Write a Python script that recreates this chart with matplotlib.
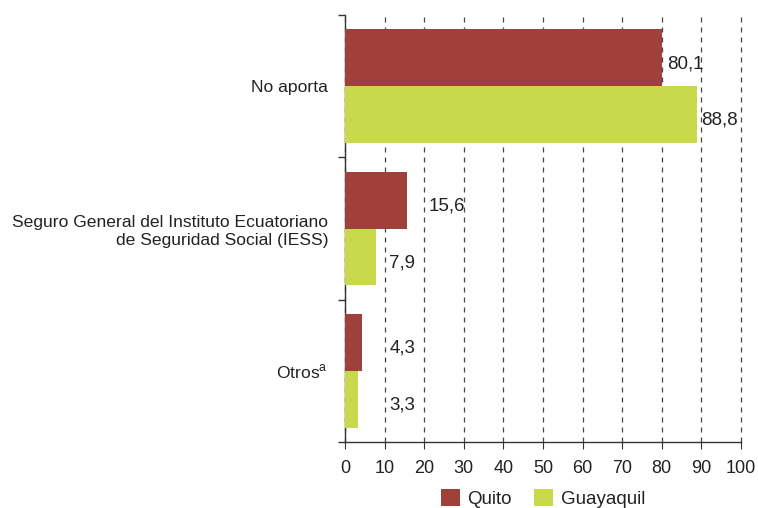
import math
import matplotlib
matplotlib.use("Agg")
import matplotlib.pyplot as plt
import numpy as np

plt.rcParams["font.family"] = ["Liberation Sans", "DejaVu Sans"]
plt.rcParams["mathtext.fontset"] = "custom"
plt.rcParams["mathtext.rm"] = "Liberation Sans"

# data
categories = ["No aporta",
              "Seguro General del Instituto Ecuatoriano\nde Seguridad Social (IESS)",
              r"Otros$^{\mathrm{a}}$"]
quito = [80.1, 15.6, 4.3]
guayaquil = [88.8, 7.9, 3.3]
series_names = ["Quito", "Guayaquil"]
colors = ["#A0403A", "#C8D94B"]

fig = plt.figure(figsize=(7.58, 5.08), dpi=100)
ax = fig.add_axes([0.455, 0.130, 0.5226, 0.840])

y = np.arange(len(categories))
h = 0.4
for vals, off, name, col in zip([quito, guayaquil], [-h / 2, h / 2], series_names, colors):
    ax.barh(y + off, vals, height=h, color=col, label=name, zorder=3)
    for yi, v in zip(y, vals):
        lx = v + 1.2 if v > 20 else math.ceil(v / 10) * 10 + 1.2
        ax.text(lx, yi + off + 0.04, f"{v:.1f}".replace(".", ","), va="center", ha="left",
                fontsize=13.5, color="#222222", zorder=4)

ax.set_xlim(0, 100)
ax.set_ylim(len(categories) - 0.5, -0.5)
ax.set_xticks(np.arange(0, 101, 10))
ax.set_yticks(y)
ax.set_yticklabels(categories, fontsize=12.6, color="#222222", ha="right")
ax.set_yticks(np.arange(-0.5, len(categories)), minor=True)
ax.tick_params(axis="y", which="major", length=0, pad=12)
ax.tick_params(axis="y", which="minor", length=5, color="#333333", width=1)
ax.tick_params(axis="x", length=5, color="#333333", labelsize=13, labelcolor="#222222", pad=8)

ax.grid(axis="x", linestyle=(0, (4, 4)), color="#444444", linewidth=0.9, zorder=1)
for gl in ax.get_xgridlines():
    gl.set_clip_on(False)
for s in ["top", "right"]:
    ax.spines[s].set_visible(False)
for s in ["left", "bottom"]:
    ax.spines[s].set_color("#333333")
    ax.spines[s].set_linewidth(1.0)

ax.legend(loc="upper center", bbox_to_anchor=(0.5, -0.085), ncol=2, frameon=False,
          fontsize=13.5, handlelength=1.0, handleheight=1.0, handletextpad=0.4,
          columnspacing=1.2, labelcolor="#222222", borderpad=0.1)

fig.savefig("out.png", dpi=100)
